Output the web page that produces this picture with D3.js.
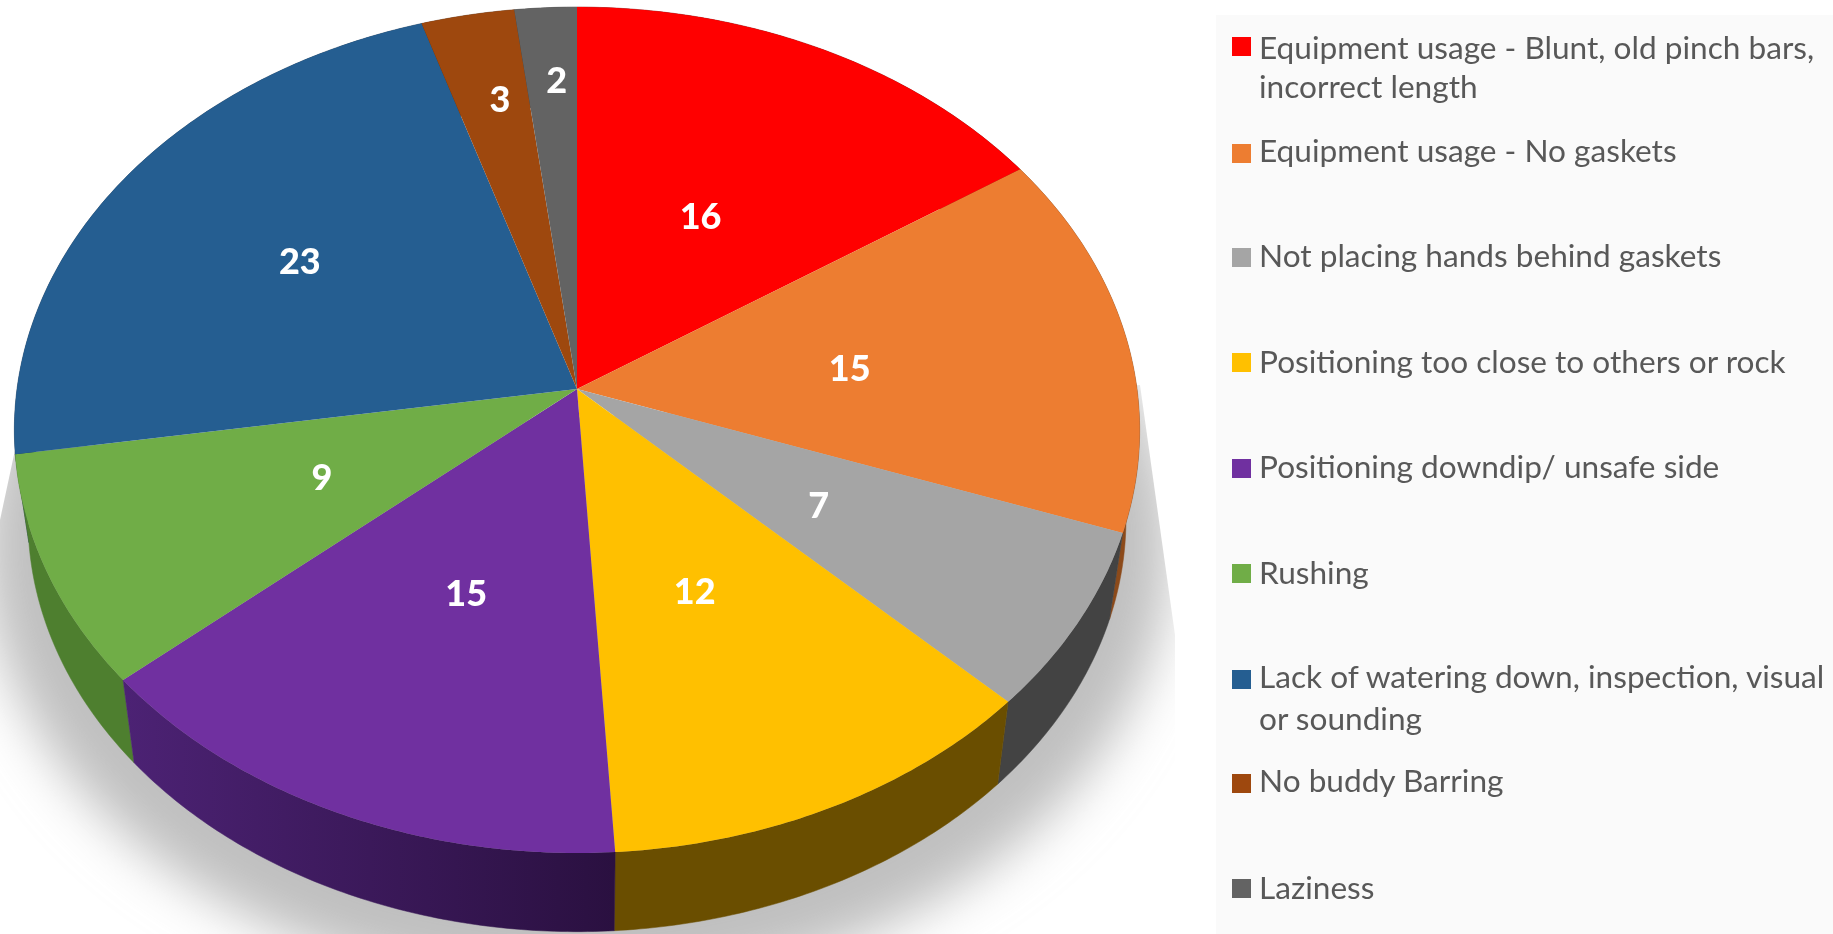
<!DOCTYPE html>
<html><head><meta charset="utf-8">
<script src="https://cdn.jsdelivr.net/npm/d3@7/dist/d3.min.js"></script>
<style>html,body{margin:0;padding:0;background:#fff;overflow:hidden}svg{display:block}</style>
</head><body><svg id="c" width="1833" height="934"></svg>
<script>
const categories = [
  ["Equipment usage - Blunt, old pinch bars,","incorrect length"],
  ["Equipment usage - No gaskets"],
  ["Not placing hands behind gaskets"],
  ["Positioning too close to others or rock"],
  ["Positioning downdip/ unsafe side"],
  ["Rushing"],
  ["Lack of watering down, inspection, visual","or sounding"],
  ["No buddy Barring"],
  ["Laziness"]
];
const values = [16,15,7,12,15,9,23,3,2];
const colors = ["#ff0000","#ed7d31","#a5a5a5","#ffc000","#7030a0","#70ad47","#255e91","#9e480e","#636363"];
const wallColors = ["#8f0000","#8c4a1a","#434343","#6a4e00","url(#purpleWall)","#4e7f2f","#163a5c","#5f2b08","#3a3a3a"];
const labelRadii = [.5,.5,.49,.5,.5,.5,.6,.73,.78];
const labelNudgeX = [-3.5,-3.5,2.3,-4.7,3.5,4.7,0,4.7,4.7];
const labelNudgeY = [4.7,4.7,5.8,3.5,2.3,-1.2,1.2,-10.5,-5.8];
const legendSwatchY = [37,144,248,353,459,564,670,774,879];
const legendBaselines = [[59,98],[162],[267],[373],[478],[584],[688,730],[792],[899]];

const svg = d3.select("#c");
const cx = 577, cy = 389, A = 560, B = 419, P = 0.097;
const vanishY = 4090, depth = 0.0243;

const slices = d3.pie().sort(null).value(d=>d).startAngle(0).endAngle(2*Math.PI)(values);

function topPoint(theta, f=1){
  const u = Math.sin(theta)*f, v = -Math.cos(theta)*f, w = 1 - P*v;
  return [cx + A*u/w, cy + B*v/w];
}
function bottomPoint(theta){
  const [x,y] = topPoint(theta);
  return [x + (cx-x)*depth, y + (vanishY-y)*depth];
}
const line = d3.line();
function arcPts(fn,a0,a1){
  const n = Math.max(8,Math.ceil((a1-a0)*90));
  return d3.range(n+1).map(i=>fn(a0+(a1-a0)*i/n));
}

const defs = svg.append("defs");
defs.append("filter").attr("id","soft").attr("x","-20%").attr("y","-20%").attr("width","140%").attr("height","140%")
  .append("feGaussianBlur").attr("stdDeviation",24);
defs.append("filter").attr("id","txt").attr("x","-5%").attr("y","-30%").attr("width","110%").attr("height","160%")
  .append("feGaussianBlur").attr("stdDeviation",0.55);
defs.append("filter").attr("id","lbl").attr("x","-10%").attr("y","-30%").attr("width","120%").attr("height","160%")
  .append("feGaussianBlur").attr("stdDeviation",0.35);
const pg = defs.append("linearGradient").attr("id","purpleWall")
  .attr("gradientUnits","userSpaceOnUse").attr("x1",125).attr("x2",615).attr("y1",0).attr("y2",0);
pg.append("stop").attr("offset",0).attr("stop-color","#4c2274");
pg.append("stop").attr("offset",1).attr("stop-color","#2a1040");
defs.append("clipPath").attr("id","shadowClip").append("path")
  .attr("d","M1140,385 L1175,635 L1175,934 L0,934 L0,520 L15,450 Z");

// Shadow
const full = arcPts(bottomPoint,0,2*Math.PI);
svg.append("g").attr("clip-path","url(#shadowClip)").append("path")
  .attr("d",line(full)+"Z").attr("fill","#c0c0c0").attr("filter","url(#soft)")
  .attr("transform","translate(577 530) scale(1.08 1.08) translate(-577 -505)");

// Side walls, back to front
const order = slices.map((s,i)=>({s,i})).sort((a,b)=>
  (-Math.cos((a.s.startAngle+a.s.endAngle)/2)) - (-Math.cos((b.s.startAngle+b.s.endAngle)/2)));
svg.append("g").selectAll("path").data(order).join("path")
  .attr("d",d=>{
    const t = arcPts(topPoint,d.s.startAngle,d.s.endAngle);
    const b = arcPts(bottomPoint,d.s.startAngle,d.s.endAngle).reverse();
    return line(t.concat(b))+"Z";
  })
  .attr("fill",d=>wallColors[d.i]).attr("stroke",d=>wallColors[d.i]).attr("stroke-width",.5);

// Top faces
svg.append("g").selectAll("path").data(slices).join("path")
  .attr("d",(d)=>line([[cx,cy]].concat(arcPts(topPoint,d.startAngle,d.endAngle)))+"Z")
  .attr("fill",(d,i)=>colors[i]);

// Value labels
svg.append("g").attr("filter","url(#lbl)").selectAll("text").data(slices).join("text")
  .attr("x",(d,i)=>topPoint((d.startAngle+d.endAngle)/2,labelRadii[i])[0]+labelNudgeX[i])
  .attr("y",(d,i)=>topPoint((d.startAngle+d.endAngle)/2,labelRadii[i])[1]+labelNudgeY[i])
  .attr("dy","0.35em").attr("text-anchor","middle")
  .attr("font-family","Lato, sans-serif").attr("font-weight",900).attr("font-size",36)
  .attr("fill","#fff").text(d=>d.data);

// Legend
svg.append("rect").attr("x",1216).attr("y",15).attr("width",617).attr("height",919).attr("fill","#fafafa");
const lg = svg.append("g");
lg.selectAll("rect").data(categories).join("rect")
  .attr("x",1232).attr("y",(d,i)=>legendSwatchY[i]).attr("width",19).attr("height",19)
  .attr("fill",(d,i)=>colors[i]);
const tg = lg.append("g").attr("font-family","Lato, sans-serif").attr("font-size",31.6).attr("fill","#595959").attr("filter","url(#txt)");
categories.forEach((lines,i)=>lines.forEach((t,j)=>{
  tg.append("text").attr("x",1259).attr("y",legendBaselines[i][j]).text(t);
}));
</script></body></html>
